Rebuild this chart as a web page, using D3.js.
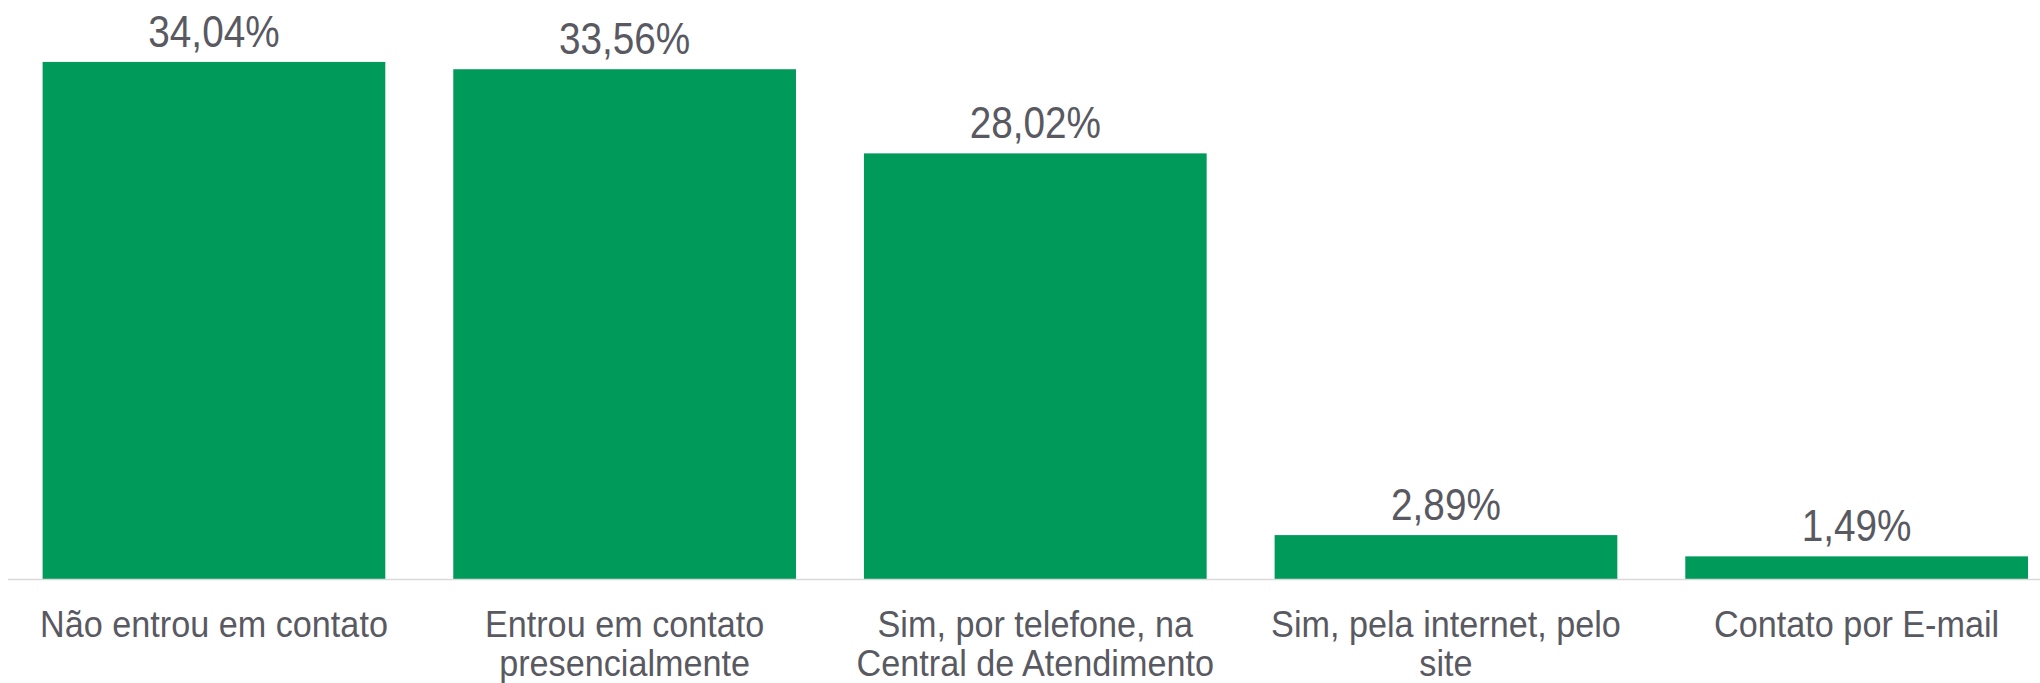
<!DOCTYPE html>
<html>
<head>
<meta charset="utf-8">
<script src="https://cdn.jsdelivr.net/npm/d3@7"></script>
<style>
  html, body { margin: 0; padding: 0; background: #fff; }
  svg { display: block; }
</style>
</head>
<body>
<div id="chart"></div>
<script>
// Categories (line breaks where the original labels wrap)
const categories = [
    'Não entrou em contato',
    'Entrou em contato\npresencialmente',
    'Sim, por telefone, na\nCentral de Atendimento',
    'Sim, pela internet, pelo\nsite',
    'Contato por E-mail'
];
const values = [34.04, 33.56, 28.02, 2.89, 1.49];
const valueLabels = ['34,04%', '33,56%', '28,02%', '2,89%', '1,49%'];

const width = 2040;
const height = 683;
const baseY = 579;
const pxPerUnit = 15.19;
const textColor = '#595962';
const font = '"Liberation Sans", Arial, sans-serif';

const svg = d3.select('#chart')
    .append('svg')
    .attr('width', width)
    .attr('height', height);

// Plot area runs a little past the right edge, as in the original
const x = d3.scaleBand()
    .domain(d3.range(categories.length))
    .range([8.6, 2062])
    .paddingInner(0.1655)
    .paddingOuter(0.0828);

const y = d3.scaleLinear()
    .domain([0, 35])
    .range([baseY, baseY - 35 * pxPerUnit]);

const cx = i => x(i) + x.bandwidth() / 2;

// Bars
svg.selectAll('.bar')
    .data(values)
    .enter()
    .append('rect')
    .attr('class', 'bar')
    .attr('x', (d, i) => x(i))
    .attr('y', d => y(d))
    .attr('width', x.bandwidth())
    .attr('height', d => y(0) - y(d))
    .attr('fill', '#009a5b');

// Category axis line
svg.append('line')
    .attr('x1', 8)
    .attr('x2', width)
    .attr('y1', baseY + 0.5)
    .attr('y2', baseY + 0.5)
    .attr('stroke', '#d9d9d9')
    .attr('stroke-width', 1.5);

// Value labels (the original font is narrow, so squeeze horizontally)
svg.selectAll('.value')
    .data(values)
    .enter()
    .append('text')
    .attr('class', 'value')
    .attr('transform', (d, i) => `translate(${cx(i)},${y(d) - 15}) scale(0.88,1)`)
    .attr('text-anchor', 'middle')
    .style('font-family', font)
    .style('font-size', '44px')
    .style('fill', textColor)
    .text((d, i) => valueLabels[i]);

// Category labels
const cats = svg.selectAll('.cat')
    .data(categories)
    .enter()
    .append('text')
    .attr('class', 'cat')
    .attr('transform', (d, i) => `translate(${cx(i)},0) scale(0.95,1)`)
    .attr('text-anchor', 'middle')
    .style('font-family', font)
    .style('font-size', '36px')
    .style('fill', textColor);

cats.each(function(d) {
    const lines = d.split('\n');
    d3.select(this).selectAll('tspan')
        .data(lines)
        .enter()
        .append('tspan')
        .attr('x', 0)
        .attr('y', (l, j) => 637 + j * 39)
        .text(l => l);
});
</script>
</body>
</html>
